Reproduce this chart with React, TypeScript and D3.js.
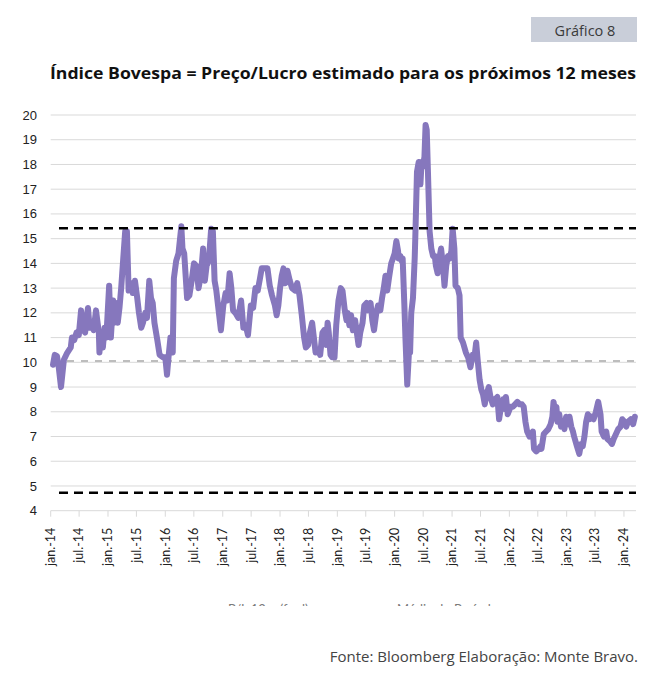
import React from "react";
import * as d3 from "d3";

const TITLE = "Índice Bovespa = Preço/Lucro estimado para os próximos 12 meses";
const BADGE = "Gráfico 8";
const SOURCE = "Fonte: Bloomberg Elaboração: Monte Bravo.";
const LEGEND_LABELS = ["P/L 12m (fwd)", "Média do Período"];

// decimal-year dates
const DATES = [
  2014.04, 2014.07, 2014.11, 2014.14, 2014.18, 2014.23, 2014.28, 2014.35, 2014.37, 2014.41,
  2014.45, 2014.49, 2014.53, 2014.57, 2014.60, 2014.65, 2014.68, 2014.72, 2014.75, 2014.79,
  2014.84, 2014.85, 2014.88, 2014.91, 2014.94, 2014.97, 2015.02, 2015.05, 2015.09, 2015.11,
  2015.14, 2015.17, 2015.20, 2015.23, 2015.26, 2015.30, 2015.33, 2015.36, 2015.40, 2015.43,
  2015.47, 2015.51, 2015.54, 2015.58, 2015.61, 2015.65, 2015.68, 2015.72, 2015.75, 2015.78,
  2015.81, 2015.86, 2015.90, 2015.96, 2016.00, 2016.03, 2016.06, 2016.09, 2016.13, 2016.15,
  2016.19, 2016.23, 2016.28, 2016.30, 2016.33, 2016.38, 2016.42, 2016.46, 2016.50, 2016.54,
  2016.58, 2016.62, 2016.66, 2016.69, 2016.72, 2016.76, 2016.80, 2016.83, 2016.86, 2016.89,
  2016.92, 2016.97, 2017.01, 2017.05, 2017.08, 2017.12, 2017.15, 2017.18, 2017.22, 2017.27,
  2017.32, 2017.36, 2017.40, 2017.44, 2017.49, 2017.53, 2017.57, 2017.61, 2017.65, 2017.68,
  2017.73, 2017.78, 2017.82, 2017.86, 2017.91, 2017.94, 2017.97, 2018.00, 2018.03, 2018.06,
  2018.09, 2018.13, 2018.17, 2018.21, 2018.26, 2018.30, 2018.34, 2018.38, 2018.42, 2018.45,
  2018.49, 2018.52, 2018.56, 2018.59, 2018.62, 2018.66, 2018.70, 2018.74, 2018.77, 2018.80,
  2018.83, 2018.85, 2018.88, 2018.91, 2018.95, 2018.98, 2019.02, 2019.06, 2019.09, 2019.13,
  2019.16, 2019.18, 2019.21, 2019.24, 2019.27, 2019.31, 2019.34, 2019.37, 2019.40, 2019.44,
  2019.47, 2019.51, 2019.53, 2019.58, 2019.61, 2019.64, 2019.68, 2019.71, 2019.75, 2019.78,
  2019.81, 2019.84, 2019.87, 2019.90, 2019.94, 2019.97, 2020.00, 2020.03, 2020.06, 2020.07,
  2020.10, 2020.12, 2020.14, 2020.17, 2020.19, 2020.22, 2020.25, 2020.27, 2020.29, 2020.32,
  2020.35, 2020.36, 2020.39, 2020.42, 2020.45, 2020.47, 2020.49, 2020.52, 2020.54, 2020.56,
  2020.58, 2020.61, 2020.64, 2020.67, 2020.70, 2020.72, 2020.75, 2020.78, 2020.81, 2020.84,
  2020.87, 2020.90, 2020.93, 2020.96, 2020.99, 2021.01, 2021.04, 2021.06, 2021.10, 2021.13,
  2021.15, 2021.19, 2021.24, 2021.28, 2021.32, 2021.36, 2021.39, 2021.42, 2021.45, 2021.48,
  2021.51, 2021.54, 2021.57, 2021.60, 2021.64, 2021.67, 2021.71, 2021.75, 2021.79, 2021.82,
  2021.86, 2021.89, 2021.93, 2021.94, 2021.97, 2022.02, 2022.06, 2022.10, 2022.14, 2022.18,
  2022.22, 2022.25, 2022.28, 2022.31, 2022.35, 2022.38, 2022.41, 2022.43, 2022.47, 2022.51,
  2022.54, 2022.56, 2022.60, 2022.64, 2022.68, 2022.72, 2022.75, 2022.77, 2022.80, 2022.82,
  2022.84, 2022.87, 2022.90, 2022.93, 2022.96, 2022.99, 2023.02, 2023.05, 2023.08, 2023.11,
  2023.13, 2023.18, 2023.22, 2023.25, 2023.28, 2023.31, 2023.34, 2023.37, 2023.40, 2023.43,
  2023.47, 2023.51, 2023.55, 2023.59, 2023.61, 2023.65, 2023.69, 2023.71, 2023.76, 2023.79,
  2023.82, 2023.86, 2023.90, 2023.94, 2023.97, 2024.01, 2024.04, 2024.07, 2024.12, 2024.16,
  2024.19,
];

const PL_VALUES = [
  9.9, 10.3, 10.25, 9.8, 9.0, 10.1, 10.35, 10.6, 11.0, 10.9,
  11.2, 11.1, 12.1, 11.3, 11.2, 12.2, 11.4, 11.5, 11.3, 12.1,
  11.2, 10.4, 11.2, 10.6, 11.4, 11.0, 13.1, 11.0, 12.5, 11.6,
  12.4, 11.6, 12.2, 13.0, 14.0, 15.3, 15.3, 12.9, 13.2, 12.8,
  13.3, 12.6, 12.0, 11.4, 11.6, 12.0, 11.8, 13.3, 12.6, 12.4,
  11.6, 10.9, 10.3, 10.2, 10.2, 9.5, 10.3, 11.0, 10.4, 13.4,
  14.1, 14.4, 15.5, 14.6, 14.4, 12.6, 12.7, 13.3, 14.0, 13.9,
  13.0, 13.5, 14.6, 13.3, 13.9, 14.1, 15.4, 15.3, 13.3, 12.9,
  12.3, 11.3, 12.3, 12.8, 12.5, 13.6, 13.0, 12.1, 12.0, 11.8,
  12.5, 11.4, 11.5, 11.1, 12.3, 12.2, 13.0, 12.9, 13.4, 13.8,
  13.8, 13.8, 13.1, 12.7, 12.3, 11.9, 12.3, 13.0, 13.5, 13.8,
  13.2, 13.7, 13.3, 13.0, 12.9, 13.2, 12.7, 11.9, 11.0, 10.6,
  10.7, 11.2, 11.6, 11.0, 10.4, 10.5, 10.3, 11.2, 11.3, 10.7,
  11.6, 11.2, 10.3, 10.2, 10.2, 11.5, 12.5, 13.0, 12.9, 12.1,
  11.7, 12.0, 11.5, 11.9, 11.3, 11.7, 11.2, 10.7, 11.2, 11.6,
  12.3, 12.4, 12.1, 12.4, 11.7, 11.3, 12.0, 12.3, 12.1, 12.6,
  13.0, 13.5, 12.9, 13.4, 14.0, 14.2, 14.4, 14.9, 14.5, 14.2,
  14.3, 14.1, 14.2, 12.3, 10.9, 9.1, 10.4, 10.4, 12.0, 12.6,
  14.2, 15.0, 17.7, 18.1, 17.2, 18.1, 17.9, 18.3, 19.6, 19.4,
  17.8, 15.3, 14.6, 14.3, 14.3, 13.9, 13.6, 14.2, 14.6, 14.0,
  13.1, 13.9, 14.3, 14.2, 14.5, 15.4, 14.6, 13.1, 13.0, 12.7,
  11.0, 10.8, 10.4, 10.2, 9.8, 10.3, 10.2, 10.8, 10.0, 9.3,
  8.9, 8.7, 8.3, 8.7, 9.0, 8.6, 8.3, 8.5, 8.6, 7.7,
  8.3, 8.5, 8.1, 8.6, 7.9, 8.2, 8.2, 8.3, 8.4, 8.3,
  8.3, 8.2, 7.6, 7.2, 7.0, 7.1, 7.2, 6.5, 6.4, 6.5,
  6.6, 6.5, 7.1, 7.2, 7.3, 7.5, 7.8, 8.4, 8.0, 8.2,
  7.6, 7.9, 7.4, 7.6, 7.3, 7.8, 7.5, 7.8, 7.4, 7.2,
  7.0, 6.6, 6.3, 6.7, 6.6, 7.0, 7.6, 7.9, 7.7, 7.8,
  7.7, 8.0, 8.4, 7.9, 7.2, 7.0, 7.2, 6.9, 6.8, 6.7,
  6.9, 7.1, 7.3, 7.4, 7.7, 7.6, 7.4, 7.6, 7.7, 7.5,
  7.8,
];

const BAND_UPPER = 15.42;
const BAND_LOWER = 4.73;
const PERIOD_MEAN = 10.05;
const Y_TICKS = [4, 5, 6, 7, 8, 9, 10, 11, 12, 13, 14, 15, 16, 17, 18, 19, 20];
const X_START = 2014.0;
const X_END = 2024.21;

const decToDate = (d: number) => {
  const y = Math.floor(d);
  const frac = d - y;
  return new Date(new Date(y, 0, 1).getTime() + frac * 365.25 * 864e5);
};

const W = 666;
const H = 692;
const LEFT = 50.7;
const RIGHT = 636;
const TOP = 115;
const BOTTOM = 510.7;

export default function App() {
  const x = d3.scaleTime().domain([decToDate(X_START), decToDate(X_END)]).range([LEFT, RIGHT]);
  const y = d3.scaleLinear().domain([4, 20]).range([BOTTOM, TOP]);
  const pts = DATES.map((d, i) => ({ date: decToDate(d), v: PL_VALUES[i] }));
  const line = d3
    .line<{ date: Date; v: number }>()
    .x((p) => x(p.date))
    .y((p) => y(p.v));
  const xTicks = d3.timeMonth.range(new Date(2014, 0, 1), new Date(2024, 1, 1), 6);
  const fmt = (d: Date) =>
    (d.getMonth() === 0 ? "jan." : "jul.") + "-" + String(d.getFullYear() % 100).padStart(2, "0");
  const x0 = x(pts[0].date);
  const x1 = RIGHT;

  return (
    <svg
      width={W}
      height={H}
      style={{ position: "absolute", left: 0, top: 0, background: "#fff" }}
    >
      <defs>
        <clipPath id="legendClip">
          <rect x={0} y={0} width={W} height={606} />
        </clipPath>
      </defs>
      <rect x={0} y={0} width={W} height={H} fill="#fff" />
      {/* badge */}
      <rect x={531} y={17} width={106} height={25} fill="#c9ced9" />
      <text
        x={585}
        y={35.5}
        textAnchor="middle"
        fontFamily="'Open Sans', Lato, sans-serif"
        fontSize={14.5}
        fill="#3a3a3a"
      >
        {BADGE}
      </text>
      {/* title */}
      <text
        x={50}
        y={79}
        fontFamily="'Open Sans', Lato, sans-serif"
        fontWeight="bold"
        fontSize={16.5}
        fill="#111"
        textLength={586}
        lengthAdjust="spacingAndGlyphs"
      >
        {TITLE}
      </text>
      {/* grid */}
      {Y_TICKS.map((t) => (
        <g key={t}>
          <line x1={LEFT} x2={RIGHT} y1={y(t)} y2={y(t)} stroke="#d9d9d9" strokeWidth={1} />
          <text
            x={37}
            y={y(t)}
            dy="0.35em"
            textAnchor="end"
            fontFamily="'Liberation Sans', Arial, sans-serif"
            fontSize={13}
            fill="#222"
          >
            {t}
          </text>
        </g>
      ))}
      {/* x ticks */}
      {xTicks.map((d) => (
        <g key={d.getTime()}>
          <line x1={x(d)} x2={x(d)} y1={BOTTOM} y2={BOTTOM + 6} stroke="#d9d9d9" />
          <text
            transform={`translate(${x(d)},${BOTTOM + 17}) rotate(-90)`}
            dy="0.35em"
            textAnchor="end"
            fontFamily="Lato, 'Open Sans', sans-serif"
            fontSize={12.5}
            fill="#222"
          >
            {fmt(d)}
          </text>
        </g>
      ))}
      {/* reference lines */}
      <line
        x1={x0}
        x2={x1}
        y1={y(PERIOD_MEAN)}
        y2={y(PERIOD_MEAN)}
        stroke="#bdbdbd"
        strokeWidth={2}
        strokeDasharray="7,7"
      />
      {/* main series */}
      <path
        d={line(pts) ?? ""}
        fill="none"
        stroke="#8677bd"
        strokeWidth={6}
        strokeLinejoin="round"
        strokeLinecap="round"
      />
      <line
        x1={x0 + 6}
        x2={x1}
        y1={y(BAND_UPPER)}
        y2={y(BAND_UPPER)}
        stroke="#000"
        strokeWidth={2.5}
        strokeDasharray="9,6"
      />
      <line
        x1={x0 + 6}
        x2={x1}
        y1={y(BAND_LOWER)}
        y2={y(BAND_LOWER)}
        stroke="#000"
        strokeWidth={2.5}
        strokeDasharray="9,6"
      />
      {/* legend (cropped in the original) */}
      <g clipPath="url(#legendClip)" fontFamily="Lato, 'Open Sans', sans-serif" fontSize={13} fill="#7a7a7a">
        <text x={228} y={614}>{LEGEND_LABELS[0]}</text>
        <text x={397} y={614}>{LEGEND_LABELS[1]}</text>
      </g>
      {/* source */}
      <text
        x={638}
        y={662}
        textAnchor="end"
        fontFamily="'Open Sans', Lato, sans-serif"
        fontSize={15}
        fill="#444"
      >
        {SOURCE}
      </text>
    </svg>
  );
}
